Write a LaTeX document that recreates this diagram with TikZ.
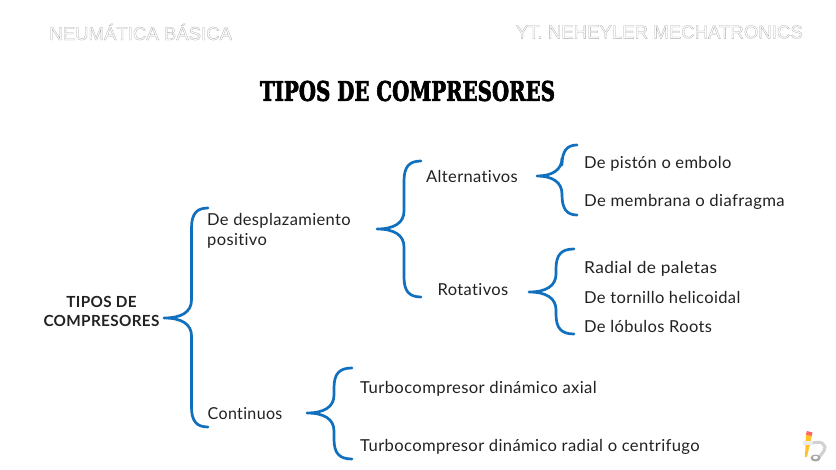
\documentclass[tikz,border=0pt]{standalone}
\usepackage{fontspec}
\setmainfont{Lato}[Ligatures={NoCommon},LetterSpace=2.2]
\newfontfamily\titlefont{DejaVu Serif}[BoldFont={DejaVu Serif Bold}]
\newfontfamily\markfont{Liberation Sans}
\definecolor{braceblue}{HTML}{1070BE}
\definecolor{inktext}{HTML}{222222}
\newcommand{\outlined}[1]{\special{pdf:code q 1 Tr 0.3 w 0.68 0.68 0.68 RG}#1\special{pdf:code Q}}
\newcommand{\heavy}[1]{\special{pdf:code q 2 Tr 0.75 w 0 0 0 RG 0 0 0 rg}#1\special{pdf:code Q}}
\newcommand{\bracebr}[6]{% tip x, tip y, spine x, top y, bottom y, end x
  \draw[bracestyle] (#6,#4) .. controls (#3+5,#4) and (#3,#4+6) .. (#3,#4+20)
    -- (#3,#2-18) .. controls (#3,#2-6) and (#3-10,#2) .. (#1,#2)
    (#1,#2) .. controls (#3-10,#2) and (#3,#2+6) .. (#3,#2+18)
    -- (#3,#5-20) .. controls (#3,#5-6) and (#3+5,#5) .. (#6,#5);}
\tikzset{
  bracestyle/.style={draw=braceblue,line width=2.7pt,line cap=round,line join=round},
  lbl/.style={anchor=west,inner sep=0pt,text=inktext,font=\fontsize{16.5}{20}\selectfont},
  wm/.style={inner sep=0pt,font=\markfont\fontsize{18.6}{24}\selectfont}
}
\begin{document}
\begin{tikzpicture}[x=1pt,y=-1pt]
\useasboundingbox (0,0) rectangle (836,470);
\fill[white] (0,0) rectangle (836,470);
\node[wm,anchor=west] (wl) at (49,32) {\outlined{NEUMÁTICA BÁSICA}};
\node[wm,anchor=east] (wr) at (803,32) {\outlined{YT. NEHEYLER MECHATRONICS}};
\node[inner sep=0pt,text=black,xscale=0.733,transform shape] (title) at (407.5,91) {\titlefont\bfseries\fontsize{27}{32}\selectfont \heavy{TIPOS DE COMPRESORES}};
\node[inner sep=0pt,align=center,text=inktext,font=\fontsize{15.3}{19}\selectfont\bfseries] (root) at (101.5,311.5) {TIPOS DE\\COMPRESORES};
\node[lbl,align=left] (dp) at (207,230.5) {De desplazamiento\\positivo};
\node[lbl,xscale=0.97,transform shape] (cont) at (207.5,414) {Continuos};
\node[lbl] (alt) at (426,176) {Alternativos};
\node[lbl] (rot) at (437.5,290) {Rotativos};
\node[lbl] (a1) at (584,164) {De pistón o embolo};
\node[lbl,xscale=1.012,transform shape] (a2) at (584,202) {De membrana o diafragma};
\node[lbl,xscale=1.05,transform shape] (r1) at (584,268.5) {Radial de paletas};
\node[lbl] (r2) at (584,297.5) {De tornillo helicoidal};
\node[lbl] (r3) at (584,326.5) {De lóbulos Roots};
\node[lbl,xscale=1.01,transform shape] (c1) at (360,389) {Turbocompresor dinámico axial};
\node[lbl,xscale=1.006,transform shape] (c2) at (360,447) {Turbocompresor dinámico radial o centrifugo};
\bracebr{164}{318}{191.5}{208}{427}{208}
\bracebr{377}{229}{404}{161}{297}{421}
\bracebr{537}{176}{562}{145}{215}{577}
\bracebr{529}{292}{556}{249}{334}{574}
\bracebr{307}{413}{334}{368}{459}{352}
% small icon, lower right
\draw[line width=3pt,draw=black!18,line cap=round] (808,445) .. controls (814,441) and (824,441) .. (825,447) .. controls (825,452) and (820,455) .. (817,460);
\fill[black!35] (815.5,458) ellipse (5 and 3.5);
\fill[white] (815.5,457.5) ellipse (2.5 and 1.6);
\fill[orange!55!yellow!85!white] (806,433) -- (812,435) -- (807,457) -- (805,457) -- cycle;
\fill[red!60!white] (807,431) -- (812.5,432.5) -- (811.5,436) -- (806,434.5) -- cycle;
\fill[black!8] (803,441) rectangle (813,445);
\end{tikzpicture}
\end{document}
